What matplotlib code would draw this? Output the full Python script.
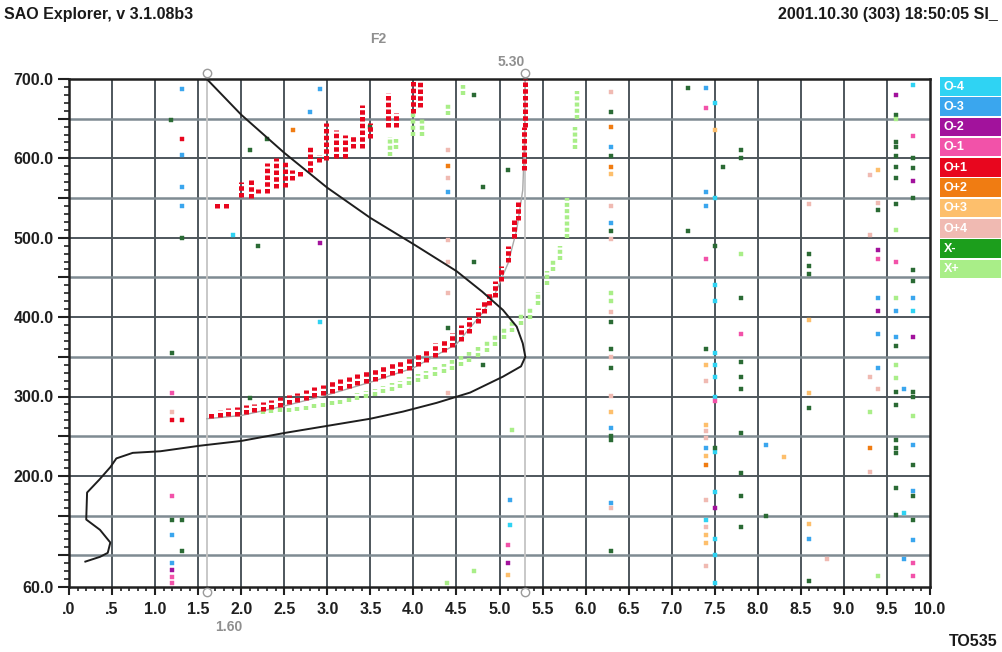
import matplotlib
matplotlib.use('Agg')
import matplotlib.pyplot as plt
from matplotlib.patches import Rectangle
from matplotlib.ticker import FixedLocator

plt.rcParams['font.family'] = ['Liberation Sans', 'DejaVu Sans']
plt.rcParams['font.weight'] = 'bold'

W, H = 1003, 652

# ---- legend / modes
mode_names = ['O-4', 'O-3', 'O-2', 'O-1', 'O+1', 'O+2', 'O+3', 'O+4', 'X-', 'X+']
mode_colors = ['#2fd3f3', '#3aa6ee', '#a2129c', '#f252a9', '#e8061e',
               '#f07c12', '#fdbf6c', '#f0bab2', '#1c9e1c', '#a9ee88']

# ---- axes ticks
x_ticks = [0, 0.5, 1, 1.5, 2, 2.5, 3, 3.5, 4, 4.5, 5, 5.5, 6, 6.5, 7, 7.5, 8, 8.5, 9, 9.5, 10]
x_labels = ['.0', '.5', '1.0', '1.5', '2.0', '2.5', '3.0', '3.5', '4.0', '4.5', '5.0',
            '5.5', '6.0', '6.5', '7.0', '7.5', '8.0', '8.5', '9.0', '9.5', '10.0']
y_ticks = [60, 100, 150, 200, 250, 300, 350, 400, 450, 500, 550, 600, 650, 700]
y_labels = ['60.0', '', '', '200.0', '', '300.0', '', '400.0', '', '500.0', '', '600.0', '', '700.0']
grid_h_dark = [200, 300, 400, 500, 600]
grid_h_light = [100, 150, 250, 350, 450, 550, 650]

# ---- markers (fmin / foF2)
marker_f = [1.60, 5.30]

# ---- electron density profile (black)
prof_f = [1.60, 2.00, 2.50, 3.00, 3.50, 4.00, 4.50, 4.80, 5.04, 5.20, 5.27, 5.30,
          5.25, 5.04, 4.66, 4.27, 3.88, 3.50, 3.00, 2.50, 2.00, 1.52, 1.06, 0.74, 0.55,
          0.48, 0.35, 0.21, 0.20, 0.36, 0.48, 0.45, 0.36, 0.19]
prof_h = [700, 655, 607, 563, 525, 492, 458, 432, 409, 388, 367, 350,
          338, 325, 305, 292, 281, 272, 263, 254, 244, 238, 231, 229, 222,
          211, 195, 179, 145, 132, 116, 103, 98, 92]

# ---- computed virtual height trace (gray)
vtrace_f = [1.60, 2.00, 2.50, 3.00, 3.50, 4.00, 4.50, 4.80, 4.95, 5.10, 5.20, 5.27, 5.29, 5.30]
vtrace_h = [272, 276, 288, 302, 318, 336, 366, 405, 430, 468, 510, 560, 620, 700]

# ---- O+1 echo trace (columns: freq, bottom, top)
o1_f = [1.65, 1.75, 1.85, 1.95, 2.05, 2.15, 2.25, 2.35, 2.45, 2.55, 2.65, 2.75, 2.85, 2.95,
        3.05, 3.15, 3.25, 3.35, 3.45, 3.55, 3.65, 3.75, 3.85, 3.95, 4.05, 4.15, 4.25, 4.35,
        4.45, 4.55, 4.65, 4.75, 4.82, 4.88, 4.95, 5.02, 5.10, 5.17, 5.21, 5.28, 5.30,
        1.72, 1.82, 2.00, 2.11, 2.20, 2.30, 2.40, 2.51, 2.59, 2.68, 2.80, 2.90, 2.99, 3.10,
        3.20, 3.30, 3.40, 3.50, 3.71, 3.80, 4.00, 4.08]
o1_lo = [273, 274, 275, 276, 278, 280, 282, 284, 287, 290, 293, 296, 299, 302,
         305, 308, 311, 314, 317, 320, 323, 327, 330, 334, 338, 343, 350, 356,
         362, 370, 380, 392, 405, 415, 425, 445, 470, 500, 522, 585, 640,
         538, 538, 551, 550, 556, 556, 563, 564, 573, 578, 583, 595, 598, 600,
         600, 613, 613, 626, 640, 640, 657, 665]
o1_hi = [281, 283, 285, 287, 289, 291, 293, 296, 299, 302, 305, 308, 312, 315,
         319, 322, 325, 328, 332, 335, 339, 342, 346, 350, 355, 360, 367, 373,
         380, 390, 400, 412, 422, 430, 445, 465, 490, 525, 548, 640, 700,
         544, 544, 570, 573, 562, 594, 600, 598, 585, 584, 617, 604, 644, 636,
         629, 629, 667, 644, 682, 657, 699, 699]

# ---- X+ echo trace (columns: freq, bottom, top)
xp_f = [2.25, 2.35, 2.45, 2.55, 2.65, 2.75, 2.85, 2.95, 3.05, 3.15, 3.25, 3.35, 3.45, 3.55,
        3.65, 3.75, 3.85, 3.95, 4.05, 4.15, 4.25, 4.35, 4.45, 4.55, 4.65, 4.75, 4.85, 4.95,
        5.05, 5.15, 5.25, 5.35, 5.45, 5.55, 5.62, 5.70, 5.78, 5.88, 5.90,
        3.73, 3.80, 4.00, 4.10, 4.40, 4.58]
xp_lo = [278, 279, 280, 281, 282, 283, 285, 287, 289, 291, 293, 296, 298, 301,
         304, 307, 311, 314, 318, 322, 326, 330, 334, 339, 344, 350, 356, 364,
         373, 381, 390, 398, 415, 440, 458, 472, 500, 612, 650,
         603, 612, 628, 628, 655, 680]
xp_hi = [284, 285, 286, 287, 288, 290, 292, 294, 296, 298, 301, 304, 307, 310,
         313, 317, 320, 324, 328, 332, 337, 341, 346, 351, 356, 362, 370, 378,
         388, 396, 404, 412, 432, 458, 472, 490, 550, 640, 685,
         627, 625, 657, 650, 670, 692]

# ---- scattered echoes per mode
o4_f = [1.91, 7.50, 7.50, 9.80, 9.80, 9.70, 7.50, 7.40, 2.92, 7.50, 7.50, 7.50, 7.50,
        7.50, 7.50, 7.50, 7.50, 7.50, 7.50, 5.12]
o4_h = [504, 670, 550, 692, 408, 153, 65, 145, 394, 355, 340, 325, 420,
        440, 300, 230, 180, 120, 100, 138]
o3_f = [1.31, 1.31, 1.31, 1.31, 1.20, 1.20, 2.92, 2.80, 6.30, 6.30, 6.30, 6.30, 7.40,
        7.40, 7.40, 7.40, 8.60, 9.40, 9.40, 9.40, 9.60, 9.70, 9.80, 9.80, 9.80, 9.80,
        9.70, 4.40, 8.10, 5.12, 9.60]
o3_h = [688, 604, 564, 540, 126, 90, 688, 659, 614, 519, 260, 166, 689,
        558, 540, 235, 120, 379, 336, 424, 375, 309, 239, 181, 119, 424,
        95, 558, 239, 170, 408]
o2_f = [1.20, 9.40, 9.40, 9.60, 7.50, 9.80, 5.10, 2.92, 9.80]
o2_h = [81, 485, 408, 680, 159, 375, 90, 493, 571]
om1_f = [1.20, 1.20, 1.20, 1.20, 7.40, 7.40, 7.50, 7.80, 9.40, 9.60, 9.80, 9.80, 9.80, 5.10]
om1_h = [305, 175, 73, 65, 664, 473, 294, 379, 473, 469, 628, 90, 74, 113]
op1_f = [1.31, 1.20, 1.31]
op1_h = [625, 270, 270]
op2_f = [6.30, 6.30, 7.40, 2.60, 4.40, 9.30]
op2_h = [640, 589, 214, 636, 590, 235]
op3_f = [6.30, 6.30, 7.50, 8.60, 9.40, 7.40, 7.40, 7.40, 7.40, 8.60, 8.60, 8.30, 5.10, 7.40]
op3_h = [580, 281, 636, 396, 585, 340, 225, 126, 115, 305, 140, 224, 75, 264]
op4_f = [6.30, 6.30, 6.30, 6.30, 6.30, 9.30, 9.40, 9.30, 9.30, 9.30, 7.40, 7.40, 7.40,
         8.80, 8.60, 4.40, 4.40, 4.40, 4.40, 4.40, 4.40, 9.40, 7.40, 7.40, 7.40, 6.30,
         6.30, 1.20]
op4_h = [683, 540, 498, 301, 160, 579, 544, 504, 325, 205, 320, 169, 86,
         95, 543, 611, 575, 497, 430, 470, 304, 310, 256, 248, 136, 350,
         407, 281]
xm_f = [1.19, 1.31, 1.20, 1.20, 1.31, 1.31, 2.10, 2.30, 2.20, 2.10, 3.50, 4.70, 4.81,
        4.70, 4.81, 4.40, 5.10, 6.30, 6.30, 6.30, 6.30, 6.30, 6.30, 6.30, 6.30, 6.30,
        7.19, 7.80, 7.80, 7.60, 7.19, 7.50, 7.80, 8.60, 8.60, 8.60, 9.40, 9.60, 9.60,
        9.60, 9.60, 9.60, 9.60, 9.60, 9.80, 9.80, 9.80, 9.80, 9.80, 7.40, 7.80, 7.80,
        7.80, 7.80, 7.80, 7.80, 7.80, 7.50, 8.10, 8.60, 8.60, 9.60, 9.60, 9.60, 9.60,
        9.60, 9.60, 9.60, 9.60, 9.80, 9.80, 9.80, 9.80, 9.80]
xm_h = [648, 500, 355, 144, 145, 105, 610, 625, 489, 298, 640, 680, 564,
        470, 340, 386, 585, 658, 603, 509, 394, 360, 336, 250, 245, 105,
        689, 610, 600, 589, 509, 489, 424, 480, 464, 454, 535, 655, 620,
        614, 603, 589, 575, 543, 601, 588, 550, 459, 445, 360, 344, 324,
        309, 254, 204, 175, 135, 235, 150, 285, 67, 364, 306, 289, 245,
        235, 229, 185, 151, 306, 300, 214, 175, 144]
xpn_f = [7.80, 9.60, 9.60, 9.60, 9.60, 9.60, 9.30, 9.80, 9.40, 4.70, 6.30, 6.30, 5.15, 4.39]
xpn_h = [480, 510, 424, 650, 340, 323, 281, 275, 74, 80, 430, 420, 258, 65]

# ---- figure
fig = plt.figure(figsize=(W / 100, H / 100), dpi=100)
fig.patch.set_facecolor('white')
ax = fig.add_axes([69 / W, 1 - 587 / H, (930 - 69) / W, (587 - 79) / H])
ax.set_xlim(0, 10)
ax.set_ylim(60, 700)

# grid
for xv in x_ticks[1:-1]:
    ax.axvline(xv, color='#4e565c', lw=1.4, zorder=1)
for yv in grid_h_dark:
    ax.axhline(yv, color='#4e565c', lw=1.4, zorder=1)
for yv in grid_h_light:
    ax.axhline(yv, color='#7f8b92', lw=1.8, zorder=1)

# marker lines
for mf in marker_f:
    ax.axvline(mf, color='#c4c4c4', lw=1.3, zorder=1.5)
    ax.plot([mf, mf], [707, 54], 'o', ms=6, mfc='white', mec='#9a9a9a', mew=1.0,
            clip_on=False, zorder=6)

ax.plot(vtrace_f, vtrace_h, color='#a8a8a8', lw=1.0, zorder=2)

# traces
ax.vlines(xp_f, xp_lo, xp_hi, colors=mode_colors[9], lw=3.2,
          linestyles=(0, (0.9, 0.5)), zorder=3)
ax.vlines(o1_f, o1_lo, o1_hi, colors=mode_colors[4], lw=3.6,
          linestyles=(0, (0.9, 0.45)), zorder=3.5)

# scattered echoes
scatter = [(o4_f, o4_h, mode_colors[0]), (o3_f, o3_h, mode_colors[1]),
           (o2_f, o2_h, mode_colors[2]), (om1_f, om1_h, mode_colors[3]),
           (op1_f, op1_h, mode_colors[4]), (op2_f, op2_h, mode_colors[5]),
           (op3_f, op3_h, mode_colors[6]), (op4_f, op4_h, mode_colors[7]),
           (xm_f, xm_h, '#2a6a34'), (xpn_f, xpn_h, mode_colors[9])]
for fx, hx, c in scatter:
    ax.plot(fx, hx, 's', ms=3.2, color=c, mec=c, mew=0.3, zorder=3)

# profile
ax.plot(prof_f, prof_h, color='#1e1e1e', lw=1.4, zorder=4)

# axes styling
for sp in ax.spines.values():
    sp.set_linewidth(1.8)
    sp.set_color('#202020')
ax.set_xticks(x_ticks)
ax.set_xticklabels(x_labels)
ax.xaxis.set_minor_locator(FixedLocator([i / 10 for i in range(101)]))
ax.set_yticks(y_ticks)
ax.set_yticklabels(y_labels)
ax.yaxis.set_minor_locator(FixedLocator(list(range(60, 701, 10))))
ax.tick_params(axis='x', which='major', direction='out', length=6, width=1.5,
               pad=5, labelsize=11.5, colors='#202020')
ax.tick_params(axis='x', which='minor', direction='out', length=3, width=1.2, colors='#202020')
ax.tick_params(axis='y', which='major', direction='out', length=8, width=1.5,
               pad=3, labelsize=11.5, colors='#202020')
ax.tick_params(axis='y', which='minor', direction='out', length=3.5, width=1.2, colors='#202020')
for lab in ax.get_xticklabels() + ax.get_yticklabels():
    lab.set_fontweight('bold')

# marker labels
ax.text(marker_f[1] - 0.17, 721, f'{marker_f[1]:.2f}', ha='center', va='center',
        fontsize=10, color='#8f8f8f', clip_on=False)
ax.text(marker_f[0] + 0.25, 10, f'{marker_f[0]:.2f}', ha='center', va='center',
        fontsize=10, color='#8f8f8f', clip_on=False)
fig.text(378 / W, 1 - 39 / H, 'F2', ha='center', va='center', fontsize=10, color='#8f8f8f')

# header / footer
fig.text(4 / W, 1 - 15 / H, 'SAO Explorer, v 3.1.08b3', ha='left', va='center',
         fontsize=11.5, color='#1a1a1a')
fig.text(998 / W, 1 - 15 / H, '2001.10.30 (303) 18:50:05 SI_', ha='right', va='center',
         fontsize=11.5, color='#1a1a1a')
fig.text(998 / W, 1 - 641 / H, 'TO535', ha='right', va='center', fontsize=11.5, color='#1a1a1a')

# legend boxes
for i, (name, c) in enumerate(zip(mode_names, mode_colors)):
    top = 77 + i * 20.3
    fig.add_artist(Rectangle((940 / W, 1 - (top + 18.5) / H), 61 / W, 18.5 / H,
                             transform=fig.transFigure, facecolor=c, edgecolor='none'))
    fig.text(944 / W, 1 - (top + 9.5) / H, name, ha='left', va='center',
             fontsize=9, color='white')

fig.savefig('out.png', dpi=100)
